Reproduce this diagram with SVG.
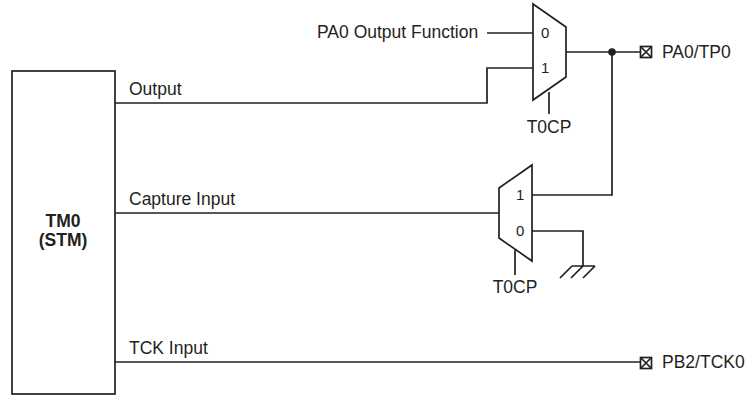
<svg xmlns="http://www.w3.org/2000/svg" width="745" height="396" viewBox="0 0 745 396">
<style>
.ln{fill:none;stroke:#231f20;stroke-width:1.7;stroke-linejoin:miter}
.t{font-family:"Liberation Sans",Arial,sans-serif;font-size:17.5px;fill:#231f20}
.s{font-family:"Liberation Sans",Arial,sans-serif;font-size:15px;fill:#231f20}
.b{font-family:"Liberation Sans",Arial,sans-serif;font-size:17.5px;font-weight:bold;fill:#231f20}
</style>
<defs>
<g id="pin"><rect x="-5.5" y="-5.5" width="11" height="11" class="ln" stroke-width="1.9"/><path d="M-5.5,-5.5L5.5,5.5M5.5,-5.5L-5.5,5.5" class="ln" stroke-width="1.5"/></g>
</defs>
<rect width="745" height="396" fill="#fff"/>
<g id="connectors">
<path class="ln" d="M115,103H487V68H533"/>
<path class="ln" d="M487,33H533"/>
<path class="ln" d="M549,92V114"/>
<path class="ln" d="M566,52H640"/>
<path class="ln" d="M612,52V195H532"/>
<path class="ln" d="M115,213H499"/>
<path class="ln" d="M532,231H583V266"/>
<path class="ln" d="M572,266H595M572,266L560,278M583,266L571,278M595,266L583,278"/>
<path class="ln" d="M515,250V275"/>
<path class="ln" d="M115,362H640"/>
<circle cx="612" cy="52" r="3.8" fill="#231f20"/>
</g>
<g id="tm0">
<rect x="12" y="71" width="103" height="323" class="ln"/>
<text x="63" y="227" class="b" text-anchor="middle">TM0</text>
<text x="63" y="246" class="b" text-anchor="middle">(STM)</text>
</g>
<g id="mux1">
<polygon points="533,4 566,27 566,77 533,100" class="ln"/>
<text x="541" y="38" class="s">0</text>
<text x="541" y="73" class="s">1</text>
</g>
<g id="mux2">
<polygon points="532,165 532,261 499,238 499,188" class="ln"/>
<text x="516" y="200" class="s">1</text>
<text x="516" y="236" class="s">0</text>
</g>
<g id="labels">
<text x="317" y="38" class="t">PA0 Output Function</text>
<text x="129" y="95" class="t">Output</text>
<text x="129" y="205" class="t">Capture Input</text>
<text x="129" y="354" class="t">TCK Input</text>
<text x="549" y="133" class="t" text-anchor="middle">T0CP</text>
<text x="515" y="293" class="t" text-anchor="middle">T0CP</text>
</g>
<g id="pa0pin">
<use href="#pin" x="646" y="52"/>
<text x="662" y="58" class="t">PA0/TP0</text>
</g>
<g id="pb2pin">
<use href="#pin" x="646" y="363"/>
<text x="662" y="368" class="t">PB2/TCK0</text>
</g>
</svg>
